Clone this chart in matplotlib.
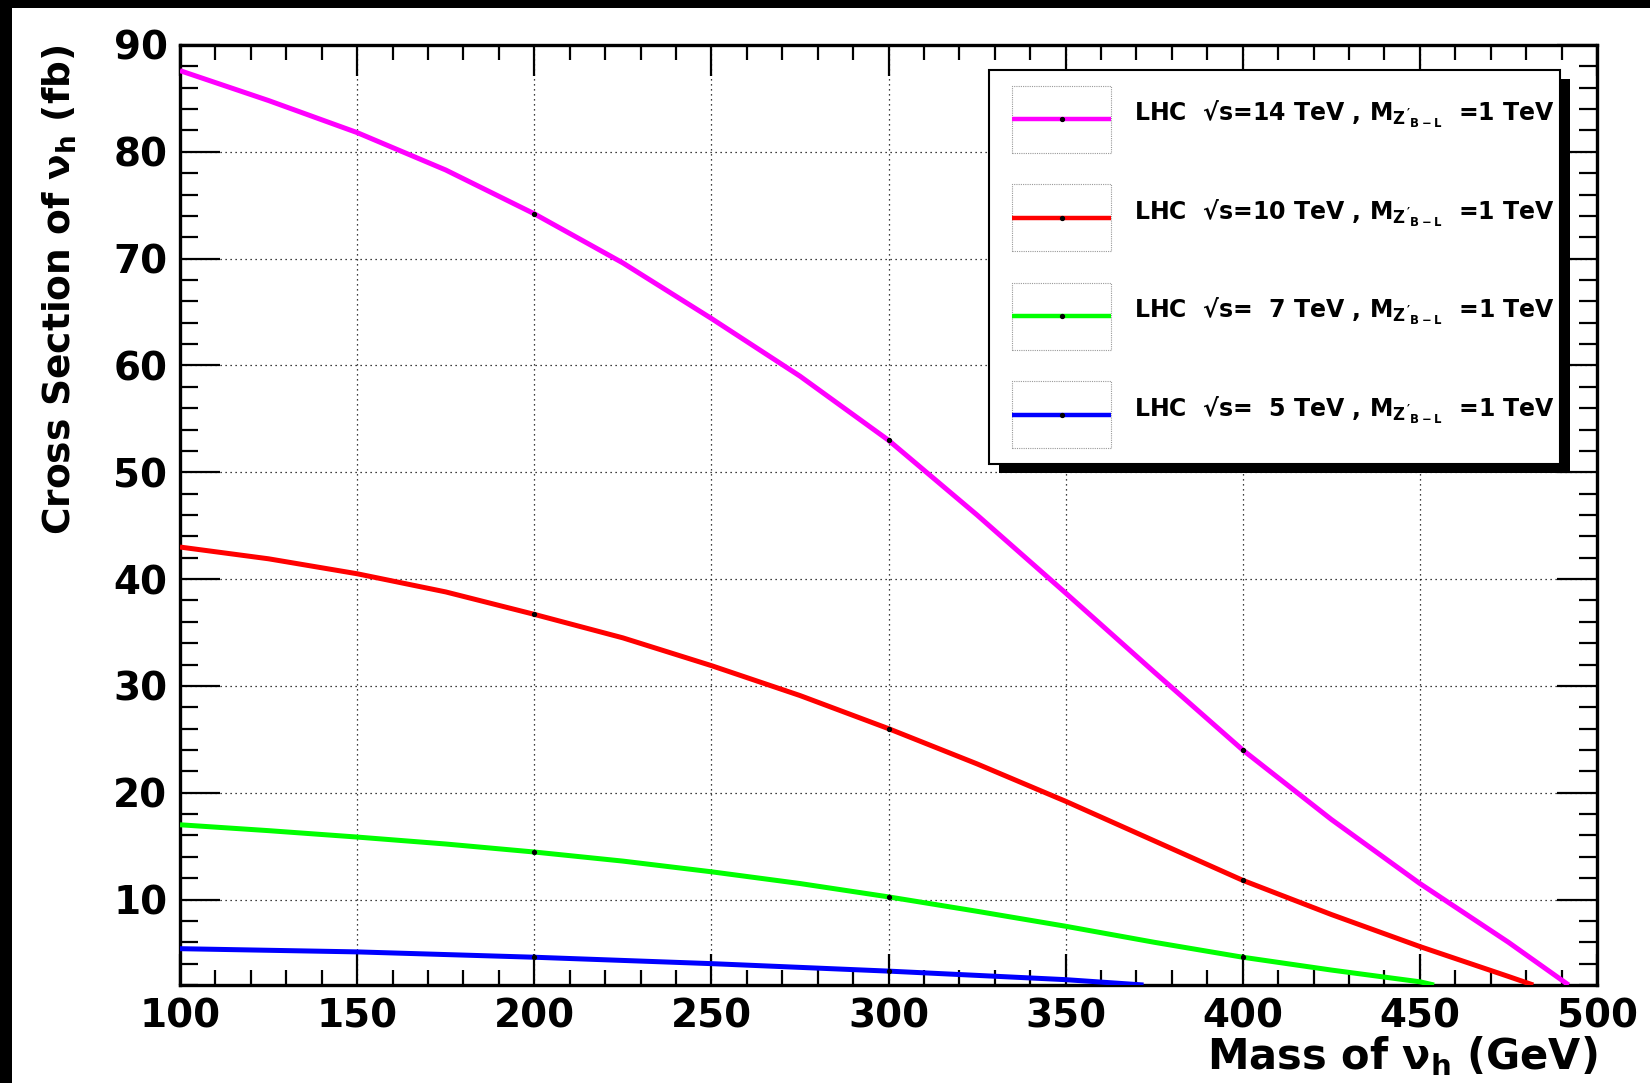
import matplotlib.pyplot as plt
from matplotlib.patches import Rectangle
from matplotlib.ticker import MultipleLocator

plt.rcParams['font.family'] = ['DejaVu Sans']
plt.rcParams['font.weight'] = 'bold'
plt.rcParams['mathtext.fontset'] = 'custom'
plt.rcParams['mathtext.rm'] = 'DejaVu Sans:bold'
plt.rcParams['mathtext.it'] = 'DejaVu Sans:bold'
plt.rcParams['mathtext.bf'] = 'DejaVu Sans:bold'

# cross sections (fb) vs heavy neutrino mass (GeV)
mass_14 = [100, 125, 150, 175, 200, 225, 250, 275, 300, 325, 350, 375, 400, 425, 450, 475, 492]
xs_14 = [87.6, 84.8, 81.8, 78.3, 74.2, 69.6, 64.4, 59.0, 53.0, 46.0, 38.7, 31.3, 24.0, 17.5, 11.5, 6.0, 2.0]

mass_10 = [100, 125, 150, 175, 200, 225, 250, 275, 300, 325, 350, 375, 400, 425, 450, 475, 482]
xs_10 = [43.0, 41.9, 40.5, 38.8, 36.7, 34.5, 31.9, 29.1, 26.0, 22.7, 19.2, 15.5, 11.8, 8.6, 5.6, 2.8, 2.0]

mass_7 = [100, 125, 150, 175, 200, 225, 250, 275, 300, 325, 350, 375, 400, 425, 450, 454]
xs_7 = [17.0, 16.45, 15.85, 15.2, 14.45, 13.6, 12.6, 11.5, 10.25, 8.9, 7.5, 6.0, 4.6, 3.4, 2.3, 2.0]

mass_5 = [100, 150, 200, 250, 300, 350, 372]
xs_5 = [5.4, 5.1, 4.6, 4.0, 3.3, 2.5, 2.0]

series = [
    (mass_14, xs_14, '#ff00ff', "LHC  \u221as=14 TeV , M$_{Z'_{B-L}}$  =1 TeV"),
    (mass_10, xs_10, '#ff0000', "LHC  \u221as=10 TeV , M$_{Z'_{B-L}}$  =1 TeV"),
    (mass_7, xs_7, '#00ff00', "LHC  \u221as=  7 TeV , M$_{Z'_{B-L}}$  =1 TeV"),
    (mass_5, xs_5, '#0000ff', "LHC  \u221as=  5 TeV , M$_{Z'_{B-L}}$  =1 TeV"),
]
marked = [200, 300, 400]

fig = plt.figure(figsize=(16.5, 10.83), dpi=100)
ax = fig.add_axes([180 / 1650, 1 - 985 / 1083, 1417 / 1650, 940 / 1083])

for m, xs, col, lab in series:
    idx = [i for i, v in enumerate(m) if v in marked]
    ax.plot(m, xs, color=col, lw=3.6, solid_capstyle='butt', solid_joinstyle='round', zorder=3,
            marker='o', markevery=idx, markersize=2.8, mfc='black', mec='black')

ax.set_xlim(100, 500)
ax.set_ylim(2, 90)
ax.xaxis.set_major_locator(MultipleLocator(50))
ax.xaxis.set_minor_locator(MultipleLocator(10))
ax.yaxis.set_major_locator(MultipleLocator(10))
ax.yaxis.set_minor_locator(MultipleLocator(2))
ax.tick_params(which='both', direction='in', top=True, right=True, width=1.6, labelsize=28)
ax.tick_params(axis='x', which='major', length=22, pad=9)
ax.tick_params(axis='x', which='minor', length=11)
ax.tick_params(axis='y', which='major', length=29, pad=9)
ax.tick_params(axis='y', which='minor', length=13)
ax.grid(True, which='major', color='black', lw=0.9, linestyle=(0, (1, 3)))
for s in ax.spines.values():
    s.set_linewidth(2.4)

fig.text(60 / 1650, 1 - 45 / 1083, r'Cross Section of $\nu_h$ (fb)', rotation=90,
         ha='center', va='top', fontsize=27)
fig.text(1597 / 1650, 1 - 1069 / 1083, r'Mass of $\nu_h$ (GeV)', ha='right',
         va='baseline', fontsize=30)

# legend box drawn by hand, ROOT style with shadow
lg = fig.add_axes([989 / 1650, 1 - 464 / 1083, 571 / 1650, 394 / 1083])
lg.set_xlim(0, 1)
lg.set_ylim(0, 1)
lg.axis('off')
lg.add_patch(Rectangle((0.018, -0.022), 1, 1, facecolor='black', edgecolor='none',
                       clip_on=False, zorder=0))
lg.add_patch(Rectangle((0, 0), 1, 1, facecolor='white', edgecolor='black', lw=1.5,
                       clip_on=False, zorder=1))
for i, (m, xs, col, lab) in enumerate(series):
    yc = 1 - (i + 0.5) / 4
    lg.add_patch(Rectangle((0.040, yc - 0.085), 0.174, 0.17, facecolor='none',
                           edgecolor='#999999', lw=0.8, linestyle=(0, (1, 1)), zorder=2))
    lg.plot([0.040, 0.214], [yc, yc], color=col, lw=3.2, solid_capstyle='butt', zorder=3)
    lg.plot([0.127], [yc], 'o', color='black', markersize=2.8, zorder=4)
    lg.text(0.254, yc + 0.012, lab, fontsize=17, va='center', ha='left', zorder=4)

# black frame bands at the top and left of the image
fig.patches.append(Rectangle((0, 1 - 8 / 1083), 1, 8 / 1083, transform=fig.transFigure,
                             facecolor='black', edgecolor='none'))
fig.patches.append(Rectangle((0, 0), 12 / 1650, 1, transform=fig.transFigure,
                             facecolor='black', edgecolor='none'))

fig.savefig('out.png', dpi=100)
